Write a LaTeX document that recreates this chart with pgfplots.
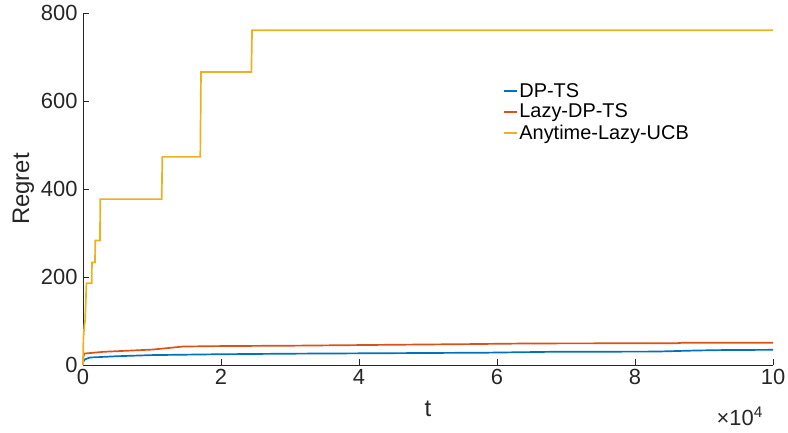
\documentclass[border=0pt]{standalone}
\usepackage{pgfplots}
\pgfplotsset{compat=1.18}
\usepackage{fontspec}
\setmainfont{Liberation Sans}
\definecolor{mblue}{rgb}{0,0.447,0.741}
\definecolor{mred}{rgb}{0.85,0.325,0.098}
\definecolor{myellow}{rgb}{0.929,0.694,0.125}
\definecolor{axgray}{rgb}{0.15,0.15,0.15}
\begin{document}
\begin{tikzpicture}
\begin{axis}[
  scale only axis,
  width=690bp, height=352bp,
  at={(0,0)}, anchor=south west,
  xmin=0, xmax=10, ymin=0, ymax=800,
  axis x line*=bottom, axis y line*=left,
  axis line style={axgray, line width=0.6pt},
  tick align=inside,
  major tick length=6bp,
  tick style={axgray, line width=0.6pt},
  xtick={0,2,4,6,8,10},
  ytick={0,200,400,600,800},
  /pgf/number format/assume math mode=true,
  ticklabel style={font=\fontsize{22}{26}\selectfont, text=axgray},
  yticklabel style={xshift=-2bp},
  xticklabel style={yshift=-1bp},
  xlabel={t}, ylabel={Regret},
  xlabel style={font=\fontsize{24}{28}\selectfont, text=axgray, yshift=-9bp},
  ylabel style={font=\fontsize{24}{28}\selectfont, text=axgray, yshift=0bp},
  legend style={draw=none, fill=none, font=\fontsize{20}{24}\selectfont,
    at={(0.608,0.807)}, anchor=north west, row sep=1.5bp,
    inner xsep=0pt, inner ysep=0pt},
  legend cell align=left,
  legend image code/.code={\draw[mark repeat=2,mark phase=2,#1] plot coordinates {(0bp,0bp) (13bp,0bp)};},
  clip=false,
]
\addplot[mblue, line width=1.7pt] coordinates {
(0,0)(0.005,8)(0.03,13)(0.1,17)(0.5,20)(1.0,22.5)(2,24.5)(3.1,25.8)(4,26.5)(5.85,28)(6.8,30)(8.3,30.5)(8.9,33)(9.3,34)(10,34.5)};
\addlegendentry{DP-TS}
\addplot[mred, line width=1.7pt] coordinates {
(0,0)(0.005,18)(0.02,26)(0.3,30)(1.0,35)(1.2,38)(1.45,42)(2,43)(3.1,44)(4.5,46)(5.6,47.5)(6.5,49)(8.6,49.5)(8.7,50.7)(10,50.7)};
\addlegendentry{Lazy-DP-TS}
\addplot[myellow, line width=1.7pt] coordinates {
(0,0)(0.006,60)(0.02,91)(0.03,100)(0.05,186)(0.126,186)(0.13,233)(0.174,233)(0.178,283)(0.246,283)(0.25,377)(1.14,377)(1.15,473)(1.70,473)(1.71,666)(2.44,666)(2.45,761)(10,761)};
\addlegendentry{Anytime-Lazy-UCB}
\node[anchor=base east, font=\fontsize{22}{26}\selectfont, text=axgray, inner sep=0pt]
  at (axis cs:10,0) [xshift=-10bp, yshift=-60bp] {×10\textsuperscript{4}};
\end{axis}
\pgfresetboundingbox
\path[use as bounding box] (-83bp,-68bp) rectangle (705bp,365bp);
\end{tikzpicture}
\end{document}
